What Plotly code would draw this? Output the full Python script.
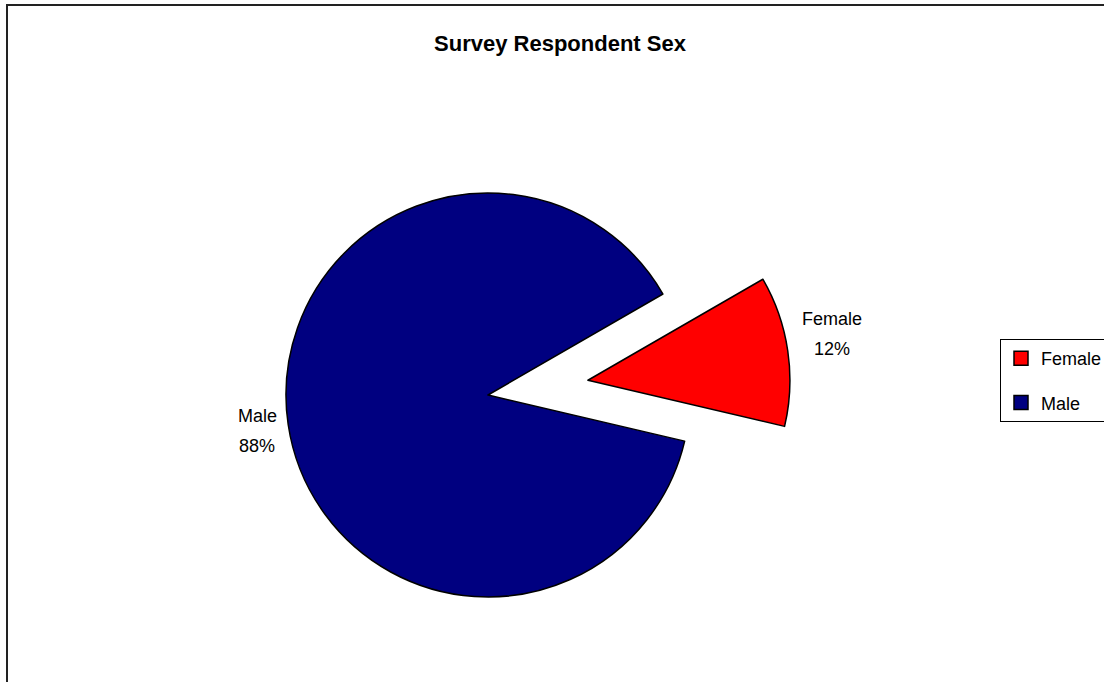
import math
import plotly.graph_objects as go

# ---- data ----
labels = ["Female", "Male"]
values = [12, 88]
colors = ["#FF0000", "#000080"]
title_text = "Survey Respondent Sex"

# ---- layout constants (pixels) ----
W, H = 1104, 682
CX, CY, R = 488, 395, 202          # centre / radius of the main pie
START_DEG = 30.0                    # first slice starts 30 deg above 3 o'clock
PULL = 0.5                          # exploded fraction of radius for Female
FONT = "Liberation Sans, Arial, sans-serif"
TRANSP = "rgba(0,0,0,0)"

total = sum(values)
fracs = [v / total for v in values]

# bisector angle (deg, counterclockwise from east) of each slice going clockwise
bis = []
a = START_DEG
for f in fracs:
    span = 360 * f
    bis.append(a - span / 2)
    a -= span


def px_domain(cx, cy, r):
    return dict(x=[(cx - r) / W, (cx + r) / W], y=[1 - (cy + r) / H, 1 - (cy - r) / H])


rotation = 90 - START_DEG

fig = go.Figure()

# main pie (male shown, female slot left empty)
fig.add_trace(go.Pie(
    labels=labels, values=values, sort=False, direction="clockwise", rotation=rotation,
    marker=dict(colors=[TRANSP, colors[1]], line=dict(color=[TRANSP, "black"], width=1.5)),
    textinfo="none", hoverinfo="skip", showlegend=False, domain=px_domain(CX, CY, R),
))

# exploded female slice
off = PULL * R
fcx = CX + off * math.cos(math.radians(bis[0]))
fcy = CY - off * math.sin(math.radians(bis[0]))
fig.add_trace(go.Pie(
    labels=labels, values=values, sort=False, direction="clockwise", rotation=rotation,
    marker=dict(colors=[colors[0], TRANSP], line=dict(color=["black", TRANSP], width=1.5)),
    textinfo="none", hoverinfo="skip", showlegend=False, domain=px_domain(fcx, fcy, R),
))

# legend entries
for i, lab in enumerate(labels):
    fig.add_trace(go.Scatter(
        x=[None], y=[None], mode="markers", name=lab, legendgroup=lab,
        marker=dict(symbol="square", size=14, color=colors[i], line=dict(color="black", width=1.5)),
    ))

# data labels (label + percent), anchored at each slice's outer bisector point
centres = [(fcx, fcy), (CX, CY)]
shifts = [(44, -17), (-31, 6)]
annotations = []
for i, lab in enumerate(labels):
    ccx, ccy = centres[i]
    ox = ccx + R * math.cos(math.radians(bis[i])) + shifts[i][0]
    oy = ccy - R * math.sin(math.radians(bis[i])) + shifts[i][1]
    pct = f"{round(fracs[i] * 100)}%"
    for txt, dy in ((lab, -15), (pct, 15)):
        annotations.append(dict(
            x=ox / W, y=1 - (oy + dy) / H, xref="paper", yref="paper",
            text=txt, showarrow=False, xanchor="center", yanchor="middle",
            font=dict(family=FONT, size=18, color="black"),
        ))

fig.update_layout(
    width=W, height=H,
    margin=dict(l=0, r=0, t=0, b=0, pad=0, autoexpand=False),
    paper_bgcolor="white", plot_bgcolor="white",
    title=dict(text=f"<b>{title_text}</b>", x=560 / W, xanchor="center",
               y=1 - 43 / H, yanchor="middle", xref="paper", yref="container",
               font=dict(family=FONT, size=22, color="black")),
    xaxis=dict(visible=False), yaxis=dict(visible=False),
    legend=dict(x=1000 / W, y=1 - 339 / H, xanchor="left", yanchor="top",
                bordercolor="black", borderwidth=1, bgcolor="white",
                font=dict(family=FONT, size=18, color="black"),
                traceorder="grouped", tracegroupgap=18),
    annotations=annotations,
    shapes=[dict(type="rect", xref="paper", yref="paper",
                 x0=7 / W, y0=1 - 5 / H, x1=1.2, y1=-0.2,
                 line=dict(color="#222222", width=2), fillcolor="rgba(0,0,0,0)")],
    showlegend=True,
)

fig.write_html("out.html")
